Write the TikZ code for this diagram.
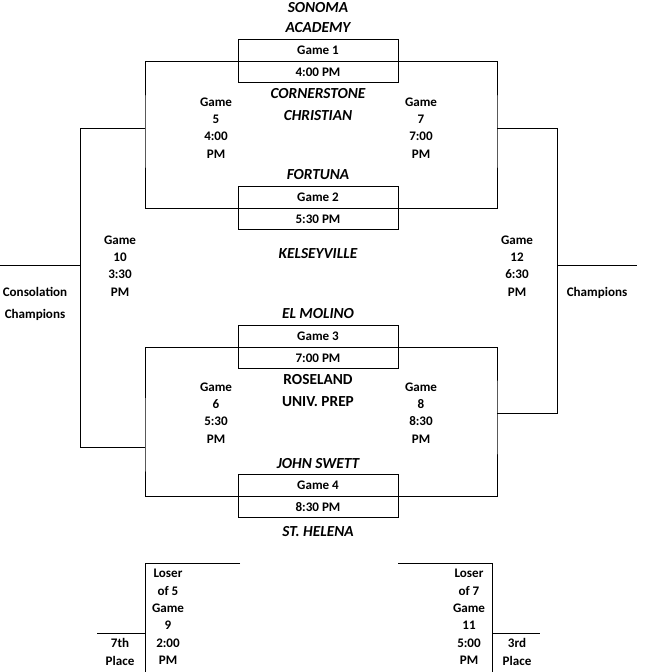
\documentclass[tikz,border=0pt]{standalone}
\usepackage{fontspec}
\setmainfont{Carlito}
\begin{document}
\begin{tikzpicture}[x=0.75pt,y=-0.75pt,
  txt/.style={font=\bfseries\fontsize{9.8}{11}\selectfont,inner sep=0pt,anchor=center},
  team/.style={font=\bfseries\itshape\fontsize{11.5}{13}\selectfont,inner sep=0pt},
  teamup/.style={font=\bfseries\fontsize{11.5}{13}\selectfont,inner sep=0pt},
  gbox/.style={draw,minimum width=120pt,minimum height=32pt,inner sep=0pt},
  ln/.style={line width=0.7pt}]
\useasboundingbox (0,0) rectangle (658,672);
\fill[white] (0,0) rectangle (658,672);
% boxes
\foreach \n/\y/\g/\t in {1/61/Game 1/4:00 PM, 2/208/Game 2/5:30 PM, 3/347/Game 3/7:00 PM, 4/496/Game 4/8:30 PM}{
  \node[gbox,ln] (b\n) at (318,\y) {};
  \draw[ln] (b\n.west) -- (b\n.east);
  \node[txt] (g\n) at (318,\y-11) {\g};
  \node[txt] (t\n) at (318,\y+11) {\t};
}
% bracket lines
\draw[ln] (b1.west) -| (145,128) |- (b2.west);
\draw[ln] (b1.east) -| (497,128) |- (b2.east);
\draw[ln] (b3.west) -| (145,447) |- (b4.west);
\draw[ln] (b3.east) -| (497,413) |- (b4.east);
\coordinate (l5) at (145,128); \coordinate (l6) at (145,447);
\coordinate (r7) at (497,128); \coordinate (r8) at (497,413);
\draw[ln] (l5) -- (80,128) -- (80,447) -- (l6);
\draw[ln] (r7) -- (557,128) -- (557,413) -- (r8);
\draw[ln] (0,265) -- (80,265);
\draw[ln] (557,265) -- (637,265);
% bottom
\draw[ln] (240,563) -- (145,563) -- (145,672);
\draw[ln] (97,633) -- (145,633);
\draw[ln] (398,563) -- (492,563) -- (492,672);
\draw[ln] (492,633) -- (540,633);
% game labels
\node[txt,align=center] (gm5) at (216,128) {Game\\[2pt]5\\[2pt]4:00\\[2pt]PM};
\node[txt,align=center] (gm7) at (421,128) {Game\\[2pt]7\\[2pt]7:00\\[2pt]PM};
\node[txt,align=center] (gm6) at (216,413) {Game\\[2pt]6\\[2pt]5:30\\[2pt]PM};
\node[txt,align=center] (gm8) at (421,413) {Game\\[2pt]8\\[2pt]8:30\\[2pt]PM};
\node[txt,align=center] (gm10) at (120,266) {Game\\[2pt]10\\[2pt]3:30\\[2pt]PM};
\node[txt,align=center] (gm12) at (517,266) {Game\\[2pt]12\\[2pt]6:30\\[2pt]PM};
\node[txt,align=center] (cons) at (35,304) {Consolation\\[6pt]Champions};
\node[txt] (champ) at (597,293) {Champions};
\node[txt,align=center] (gm9) at (168,617) {Loser\\[2pt]of 5\\[2pt]Game\\[2pt]9\\[2pt]2:00\\[2pt]PM};
\node[txt,align=center] (gm11) at (469,617) {Loser\\[2pt]of 7\\[2pt]Game\\[2pt]11\\[2pt]5:00\\[2pt]PM};
\node[txt,align=center] (p7) at (120,652) {7th\\[2pt]Place};
\node[txt,align=center] (p3) at (517,652) {3rd\\[2pt]Place};
% teams
\node[team] (sonoma) at (318,8) {SONOMA};
\node[team] (academy) at (318,28) {ACADEMY};
\node[team] (corn) at (318,94) {CORNERSTONE};
\node[team] (chr) at (318,116) {CHRISTIAN};
\node[team] (fort) at (318,175) {FORTUNA};
\node[team] (kels) at (318,254) {KELSEYVILLE};
\node[team] (elm) at (318,314) {EL MOLINO};
\node[teamup] (ros) at (318,380) {ROSELAND};
\node[teamup] (univ) at (318,402) {UNIV. PREP};
\node[team] (john) at (318,464) {JOHN SWETT};
\node[team] (hel) at (318,532) {ST. HELENA};
\end{tikzpicture}
\end{document}
